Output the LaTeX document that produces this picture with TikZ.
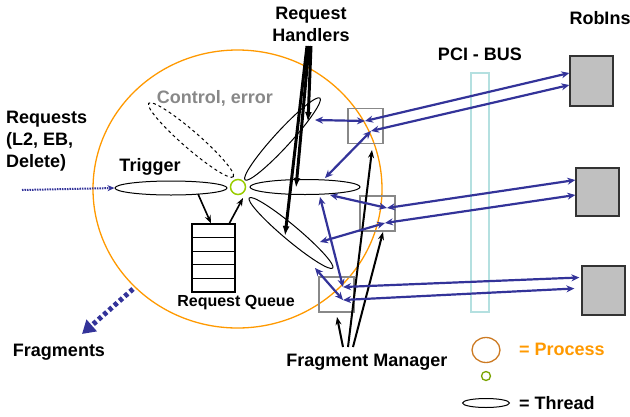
\documentclass[tikz,border=0pt]{standalone}
\usepackage{fontspec}
\setmainfont{Liberation Sans}
\usetikzlibrary{shapes.geometric,arrows.meta,calc}
\definecolor{procorange}{HTML}{FF9900}
\definecolor{legendorange}{HTML}{CC7A22}
\definecolor{threadgreen}{HTML}{99CC00}
\definecolor{linkblue}{HTML}{333399}
\definecolor{busteal}{HTML}{B4E0E0}
\definecolor{boxgray}{HTML}{888888}
\definecolor{robgray}{HTML}{C0C0C0}
\begin{document}
\begin{tikzpicture}[x=1pt,y=-1pt,
  lbl/.style={font=\fontsize{18}{22}\selectfont\bfseries, inner sep=0pt, align=center},
  thread/.style={draw, ellipse, inner sep=0pt, line width=1pt},
  slot/.style={draw, line width=1.3pt, minimum width=43pt, minimum height=13.6pt, inner sep=0pt},
  fmbox/.style={draw=boxgray, line width=1.2pt, minimum width=35pt, minimum height=35pt, inner sep=0pt},
  robin/.style={draw=black!80, fill=robgray, line width=1.3pt, minimum width=43pt, inner sep=0pt},
  link/.style={linkblue, line width=2.2pt, {Stealth[length=8pt,width=7pt]}-{Stealth[length=8pt,width=7pt]}},
  ptr/.style={black, line width=1.6pt, -{Stealth[length=8pt,width=6pt]}},
  bigptr/.style={black, line width=3pt, -{Latex[length=10pt,width=7pt]}}
]
\useasboundingbox (0,0) rectangle (630,416);

% process boundary
\node[draw=procorange, ellipse, line width=1.3pt, minimum width=289pt, minimum height=278pt, inner sep=0pt] (proc) at (237.5,189) {};

% PCI bus
\node[draw=busteal, line width=1.2pt, minimum width=18pt, minimum height=239pt, inner sep=0pt] (bus) at (480,192.5) {};
\node[lbl] (buslbl) at (480,54) {PCI - BUS};

% threads
\node[thread, minimum width=112pt, minimum height=14pt] (trig) at (171,188) {};
\node[thread, dashed, minimum width=112pt, minimum height=17pt, rotate=-41] (ctrl) at (191,140) {};
\node[thread, minimum width=111pt, minimum height=16pt, rotate=47.5] (rh1) at (282.5,139) {};
\node[thread, minimum width=110pt, minimum height=15pt] (rh2) at (305,187) {};
\node[thread, minimum width=109pt, minimum height=15pt, rotate=-40] (rh3) at (291,233) {};
\node[draw=threadgreen, circle, line width=1.5pt, minimum size=15pt, inner sep=0pt] (gc) at (238,187) {};

% request queue: five stacked slots
\node[slot] (q1) at (213.5,230.8) {};
\node[slot] (q2) at (213.5,244.4) {};
\node[slot] (q3) at (213.5,258.0) {};
\node[slot] (q4) at (213.5,271.6) {};
\node[slot] (q5) at (213.5,285.2) {};
\node[lbl, font=\fontsize{16}{20}\selectfont\bfseries] (qlbl) at (236,303) {Request Queue};

% fragment manager boxes
\node[fmbox] (fm1) at (365.5,126) {};
\node[fmbox] (fm2) at (377.5,213.5) {};
\node[fmbox] (fm3) at (336.5,294.5) {};

% readout inputs
\node[robin, minimum height=50pt] (r1) at (591.5,81) {};
\node[robin, minimum height=48pt] (r2) at (597.5,192) {};
\node[robin, minimum height=49pt] (r3) at (603.5,290.5) {};
\node[lbl] (rlbl) at (600,18) {RobIns};

% labels
\node[lbl, align=left, anchor=west] (req) at (6,141) {Requests\\(L2, EB,\\Delete)};
\node[lbl] (triglbl) at (150,167) {Trigger};
\node[lbl, text=boxgray] (ctrllbl) at (215,98) {Control, error};
\node[lbl] (rhlbl) at (311,24) {Request\\Handlers};
\node[lbl] (fraglbl) at (59,352) {Fragments};
\node[lbl] (fmlbl) at (367,362) {Fragment Manager};

% incoming requests
\coordinate (reqstart) at (22,190);
\draw[linkblue, line width=2pt, dash pattern=on 1.5pt off 1pt, -{Stealth[length=7pt,width=6pt]}] (reqstart) -- (trig.west);

% outgoing fragments
\coordinate (fragstart) at (133,289);
\coordinate (fragend) at (82,334);
\draw[linkblue, line width=5pt, dash pattern=on 4pt off 3pt, -{Triangle[length=13pt,width=15pt]}] (fragstart) -- (fragend);

% trigger -> queue -> handlers
\coordinate (tq1) at (198,194);
\coordinate (qg1) at (229,224);
\coordinate (qg2) at (243,198);
\draw[ptr] (tq1) -- (q1.north -| 211,0);
\draw[ptr] (qg1) -- (qg2);

% handler pointers
\coordinate (rh1s) at (311,46);
\coordinate (rh2s) at (309,46);
\coordinate (rh3s) at (307,46);
\coordinate (rh1t) at (308,122);
\coordinate (rh2t) at (296,188);
\coordinate (rh3t) at (285,236);
\draw[bigptr] (rh1s) -- (rh1t);
\draw[bigptr] (rh2s) -- (rh2t);
\draw[bigptr] (rh3s) -- (rh3t);

% fragment manager pointers
\coordinate (fm3s) at (343,347);
\coordinate (fm1s) at (348,347);
\coordinate (fm2s) at (353,347);
\coordinate (fm3t) at (337,317);
\coordinate (fm1t) at (372,150);
\coordinate (fm2t) at (383,232);
\draw[ptr, line width=2pt] (fm3s) -- (fm3t);
\draw[ptr, line width=2pt] (fm1s) -- (fm1t);
\draw[ptr, line width=2pt] (fm2s) -- (fm2t);

% data links, box 1
\coordinate (a1) at (365,121);
\coordinate (a2) at (371,131);
\coordinate (e1) at (315,120);
\coordinate (e2) at (325,178);
\coordinate (r1a) at ($(r1.west)+(0,-8)$);
\coordinate (r1b) at ($(r1.west)+(0,4)$);
\draw[link] (e1) -- (a1);
\draw[link] (a1) -- (r1a);
\draw[link] (a2) -- (r1b);
\draw[link] (a2) -- (e2);

% data links, box 2
\coordinate (b1) at (387,208);
\coordinate (b2) at (385,223);
\coordinate (e3) at (330,195);
\coordinate (e4) at (320,242);
\coordinate (r2a) at ($(r2.west)+(0,-12)$);
\coordinate (r2b) at ($(r2.west)+(0,3)$);
\draw[link] (e3) -- (b1);
\draw[link] (b1) -- (r2a);
\draw[link] (b2) -- (r2b);
\draw[link] (b2) -- (e4);

% data links, box 3
\coordinate (c1) at (343,287);
\coordinate (c2) at (343,300);
\coordinate (e5) at (320,197);
\coordinate (e6) at (315,268);
\coordinate (r3a) at ($(r3.west)+(-2,-13)$);
\coordinate (r3b) at ($(r3.west)+(-7,-2)$);
\draw[link] (e5) -- (c1);
\draw[link] (c1) -- (r3a);
\draw[link] (c2) -- (r3b);
\draw[link] (c2) -- (e6);

% legend
\node[draw=legendorange, ellipse, line width=1.3pt, minimum width=28pt, minimum height=25pt, inner sep=0pt] (lgproc) at (486,350) {};
\node[draw=threadgreen!80!black, circle, line width=1.3pt, minimum size=9pt, inner sep=0pt] (lggc) at (486,376) {};
\node[thread, minimum width=47pt, minimum height=9pt] (lgthr) at (486,403) {};
\node[lbl, text=procorange, anchor=west] (lgproclbl) at (519,349) {= Process};
\node[lbl, anchor=west] (lgthrlbl) at (519,403) {= Thread};
\end{tikzpicture}
\end{document}
